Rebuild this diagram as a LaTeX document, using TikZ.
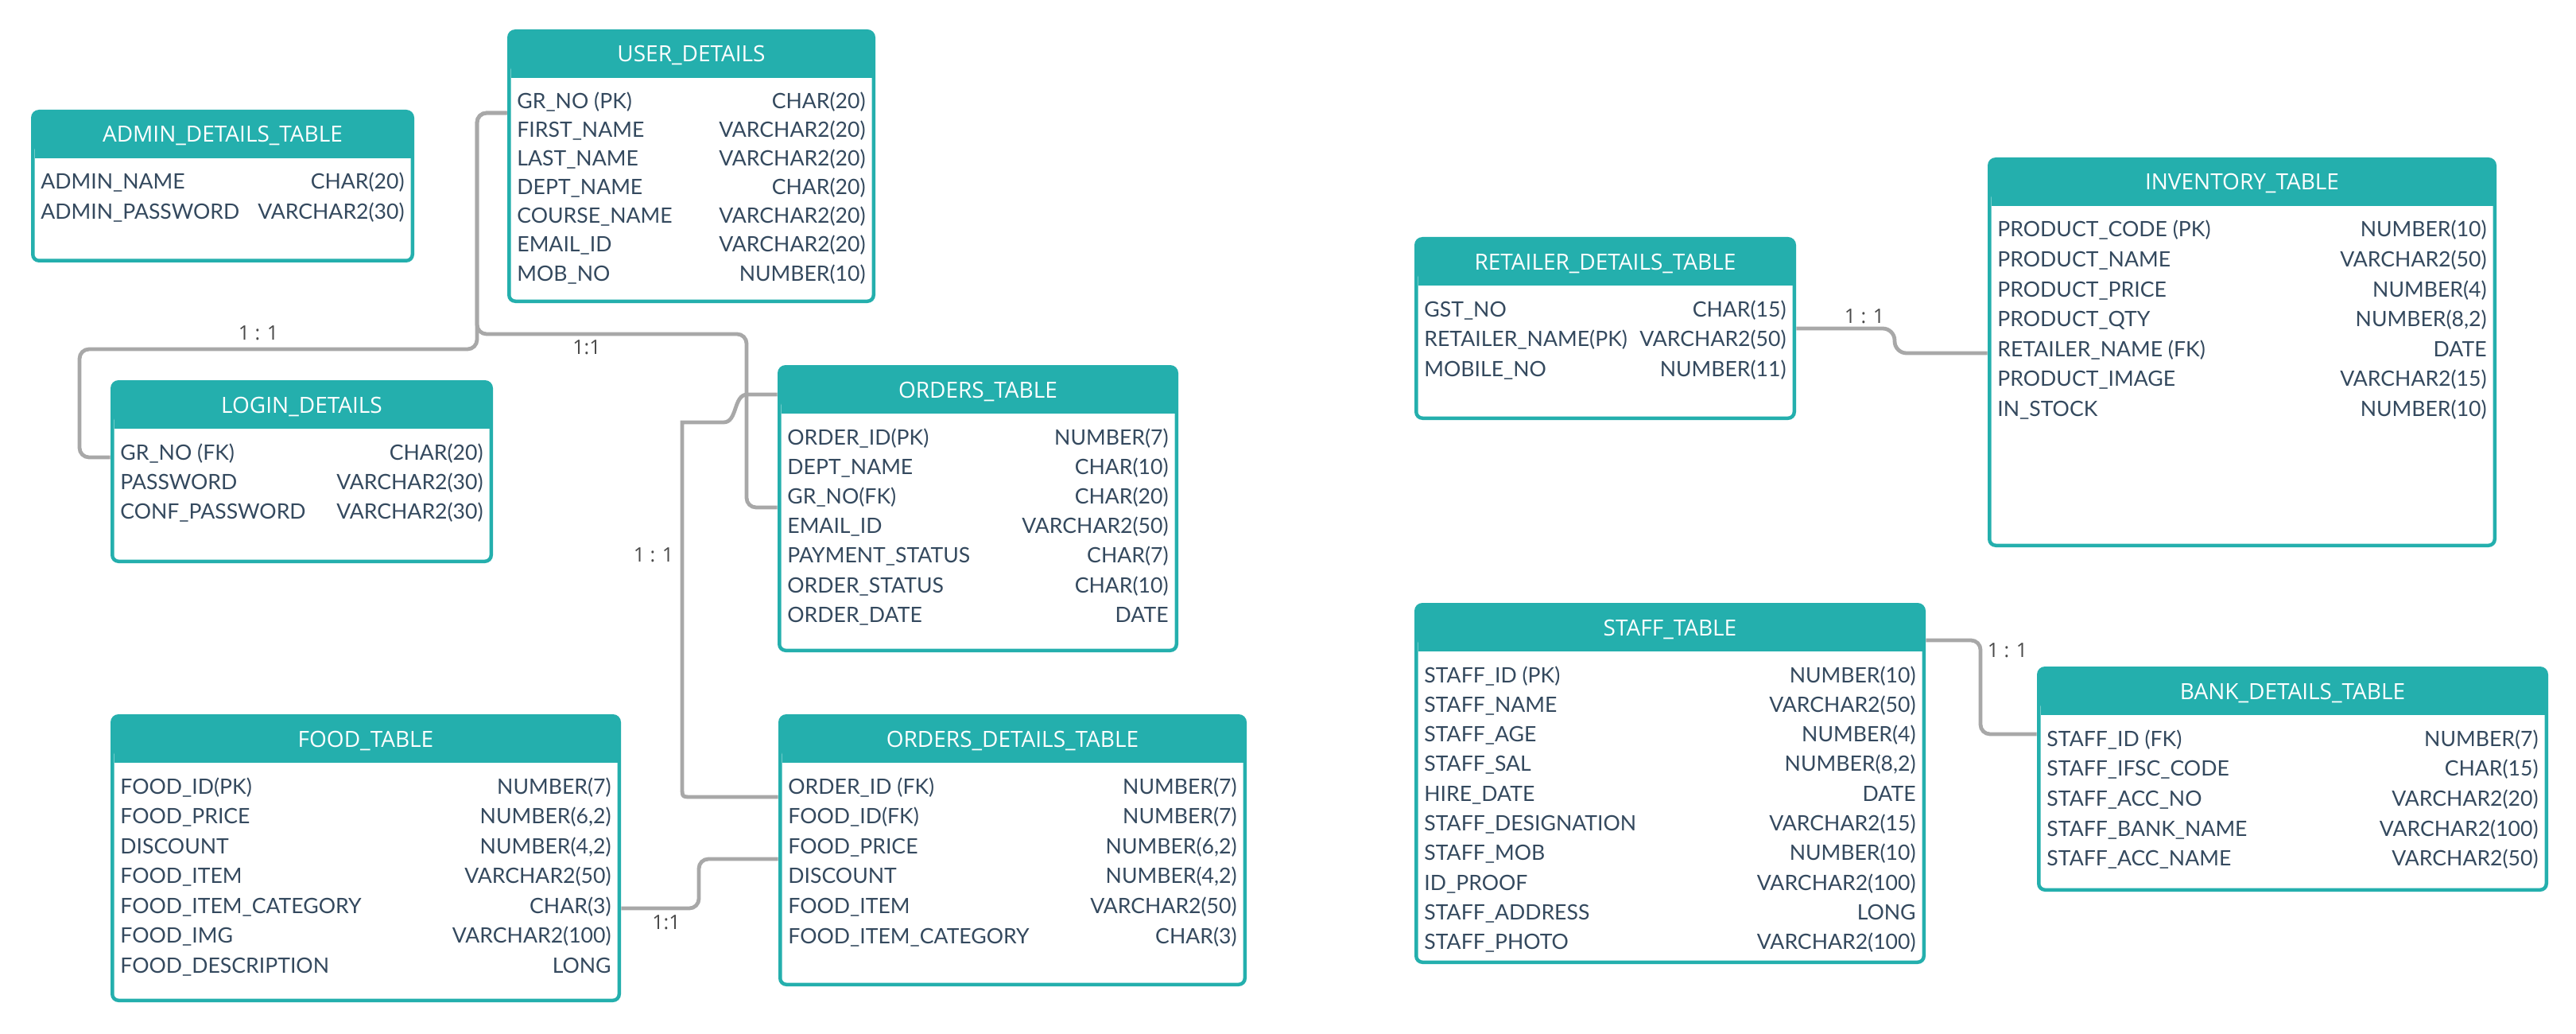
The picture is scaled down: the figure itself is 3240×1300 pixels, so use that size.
\documentclass[tikz,border=0pt]{standalone}
\usepackage{fontspec}
\setmainfont{Lato}
\newfontfamily\hfont{Open Sans}
\usetikzlibrary{fit}
\definecolor{teal1}{HTML}{24AFAD}
\definecolor{rowc}{HTML}{34495E}
\definecolor{linec}{HTML}{A8A8A8}
\definecolor{lblc}{HTML}{4A4A4A}
\tikzset{
  rowl/.style={anchor=base west, inner sep=0pt, text=rowc, font=\fontsize{13.3}{15}\selectfont},
  rowr/.style={anchor=base east, inner sep=0pt, text=rowc, font=\fontsize{13.3}{15}\selectfont},
  hdr/.style={anchor=base, inner sep=0pt, text=white, font=\hfont\fontsize{14}{16}\selectfont},
  lbl/.style={inner sep=0pt, text=lblc, font=\hfont\fontsize{12.5}{14}\selectfont},
  conn/.style={draw=linec, line width=2.4pt, rounded corners=6pt},
  tbox/.style={inner sep=0pt, draw=none}
}
% #1 name, #2 x1, #3 y1, #4 x2, #5 y2, #6 title, #7 row spacing, #8 rows
\newcommand\ertable[8]{%
  \fill[teal1, rounded corners=5pt] (#2,#3) rectangle (#4,#5);
  \fill[white, rounded corners=3pt] (#2+4.5,#3+45) rectangle (#4-4.5,#5-4.5);
  \fill[teal1] (#2+4.5,#3+30) rectangle (#4-4.5,#3+61);
  \node[tbox, fit={(#2,#3) (#4,#5)}] (#1) {};
  \node[hdr] (#1-title) at ({(#2+#4)/2}, #3+41) {#6};
  \foreach \l/\r [count=\i] in {#8} {
    \node[rowl] (#1-l\i) at (#2+12, {#3+100+(\i-1)*#7}) {\l};
    \node[rowr] (#1-r\i) at (#4-12, {#3+100+(\i-1)*#7}) {\r};
  }
}
\begin{document}
\begin{tikzpicture}[x=0.5pt, y=-0.5pt]
\useasboundingbox (0,0) rectangle (3240,1300);
\fill[white] (0,0) rectangle (3240,1300);

\ertable{admin}{39}{138}{521}{330}{ADMIN\_DETAILS\_TABLE}{38}{ADMIN\_NAME/CHAR(20), ADMIN\_PASSWORD/VARCHAR2(30)}
\ertable{user}{638}{37}{1101}{381}{USER\_DETAILS}{36}{GR\_NO (PK)/CHAR(20), FIRST\_NAME/VARCHAR2(20), LAST\_NAME/VARCHAR2(20), DEPT\_NAME/CHAR(20), COURSE\_NAME/VARCHAR2(20), EMAIL\_ID/VARCHAR2(20), MOB\_NO/NUMBER(10)}
\ertable{login}{139}{478}{620}{708}{LOGIN\_DETAILS}{37}{GR\_NO (FK)/CHAR(20), PASSWORD/VARCHAR2(30), CONF\_PASSWORD/VARCHAR2(30)}
\ertable{orders}{978}{459}{1482}{820}{ORDERS\_TABLE}{37.2}{ORDER\_ID(PK)/NUMBER(7), DEPT\_NAME/CHAR(10), GR\_NO(FK)/CHAR(20), EMAIL\_ID/VARCHAR2(50), PAYMENT\_STATUS/CHAR(7), ORDER\_STATUS/CHAR(10), ORDER\_DATE/DATE}
\ertable{food}{139}{898}{781}{1260}{FOOD\_TABLE}{37.5}{FOOD\_ID(PK)/NUMBER(7), FOOD\_PRICE/{NUMBER(6,2)}, DISCOUNT/{NUMBER(4,2)}, FOOD\_ITEM/VARCHAR2(50), FOOD\_ITEM\_CATEGORY/CHAR(3), FOOD\_IMG/VARCHAR2(100), FOOD\_DESCRIPTION/LONG}
\ertable{odet}{979}{898}{1568}{1240}{ORDERS\_DETAILS\_TABLE}{37.6}{ORDER\_ID (FK)/NUMBER(7), FOOD\_ID(FK)/NUMBER(7), FOOD\_PRICE/{NUMBER(6,2)}, DISCOUNT/{NUMBER(4,2)}, FOOD\_ITEM/VARCHAR2(50), FOOD\_ITEM\_CATEGORY/CHAR(3)}
\ertable{retailer}{1779}{298}{2259}{528}{RETAILER\_DETAILS\_TABLE}{37.5}{GST\_NO/CHAR(15), RETAILER\_NAME(PK)/VARCHAR2(50), MOBILE\_NO/NUMBER(11)}
\ertable{inventory}{2500}{198}{3140}{688}{INVENTORY\_TABLE}{37.5}{PRODUCT\_CODE (PK)/NUMBER(10), PRODUCT\_NAME/VARCHAR2(50), PRODUCT\_PRICE/NUMBER(4), PRODUCT\_QTY/{NUMBER(8,2)}, RETAILER\_NAME (FK)/DATE, PRODUCT\_IMAGE/VARCHAR2(15), IN\_STOCK/NUMBER(10)}
\ertable{staff}{1779}{758}{2422}{1212}{STAFF\_TABLE}{37.3}{STAFF\_ID (PK)/NUMBER(10), STAFF\_NAME/VARCHAR2(50), STAFF\_AGE/NUMBER(4), STAFF\_SAL/{NUMBER(8,2)}, HIRE\_DATE/DATE, STAFF\_DESIGNATION/VARCHAR2(15), STAFF\_MOB/NUMBER(10), ID\_PROOF/VARCHAR2(100), STAFF\_ADDRESS/LONG, STAFF\_PHOTO/VARCHAR2(100)}
\ertable{bank}{2562}{838}{3205}{1121}{BANK\_DETAILS\_TABLE}{37.7}{STAFF\_ID (FK)/NUMBER(7), STAFF\_IFSC\_CODE/CHAR(15), STAFF\_ACC\_NO/VARCHAR2(20), STAFF\_BANK\_NAME/VARCHAR2(100), STAFF\_ACC\_NAME/VARCHAR2(50)}

% connectors
\draw[conn] (user.west |- 0,142) -- (600,142) -- (600,439) -- (100,439) -- (100,575) -- (login.west |- 0,575);
\draw[conn] (user.west |- 0,142) -- (600,142) -- (600,420) -- (939,420) -- (939,638) -- (orders.west |- 0,638);
\draw[draw=linec, line width=2.4pt] (orders.west |- 0,496) -- (940,496) .. controls (922,496) and (928,531) .. (910,531) -- (858,531) -- (858,990) .. controls (858,1002) .. (870,1002) -- (odet.west |- 0,1002);
\draw[conn] (food.east |- 0,1142) -- (879,1142) -- (879,1080) -- (odet.west |- 0,1080);
\draw[conn, rounded corners=7.5pt] (retailer.east |- 0,413) -- (2383,413) -- (2383,444) -- (inventory.west |- 0,444);
\draw[conn] (staff.east |- 0,805) -- (2491,805) -- (2491,923) -- (bank.west |- 0,923);

% labels
\node[lbl] (lab1) at (325,419) {1 : 1};
\node[lbl] (lab2) at (738,437) {1:1};
\node[lbl] (lab3) at (822,698) {1 : 1};
\node[lbl] (lab4) at (838,1160) {1:1};
\node[lbl] (lab5) at (2345,398) {1 : 1};
\node[lbl] (lab6) at (2525,818) {1 : 1};
\end{tikzpicture}
\end{document}
